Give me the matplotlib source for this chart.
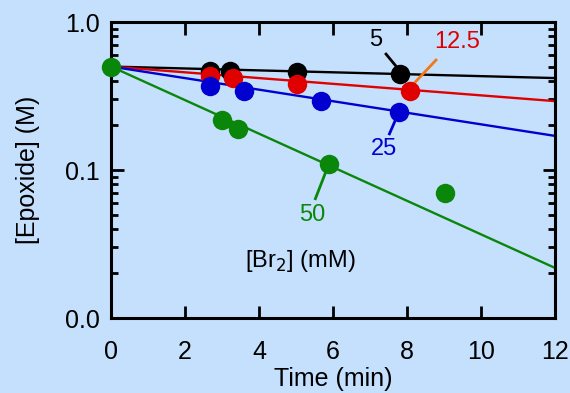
import matplotlib
matplotlib.use("Agg")
import matplotlib.pyplot as plt
from matplotlib.ticker import FixedLocator, LogLocator, NullFormatter

plt.rcParams['font.family'] = ['Liberation Sans', 'DejaVu Sans']

# ---- data ----
series_labels = ["5", "12.5", "25", "50"]
series_colors = ["#000000", "#e00000", "#0000d0", "#0a870a"]
t0 = 0.0
c0 = 0.5
times = [
    [2.68, 3.22, 5.03, 7.81],
    [2.68, 3.30, 5.03, 8.08],
    [2.68, 3.59, 5.68, 7.78],
    [3.00, 3.43, 5.89, 9.03],
]
conc = [
    [0.467, 0.467, 0.459, 0.445],
    [0.432, 0.418, 0.381, 0.342],
    [0.370, 0.342, 0.292, 0.246],
    [0.218, 0.189, 0.110, 0.070],
]
fit_t_end = 12.0
fit_end = [0.418, 0.292, 0.170, 0.0218]

xticks = [0, 2, 4, 6, 8, 10, 12]
yticks = [0.01, 0.1, 1.0]
ytick_labels = ["0.0", "0.1", "1.0"]

fig = plt.figure(figsize=(5.70, 3.93), dpi=100)
bg = "#c4e0fc"
fig.patch.set_facecolor(bg)
ax = fig.add_axes([111/570, 1-318/393, (555-111)/570, (318-22)/393])
ax.set_facecolor(bg)

ax.set_yscale('log')
ax.set_xlim(0, 12)
ax.set_ylim(0.01, 1.0)

# fit lines
for col, fe in zip(series_colors, fit_end):
    ax.plot([t0, fit_t_end], [c0, fe], color=col, lw=1.7, zorder=2, solid_capstyle='butt')

# data points
for col, ts, cs in zip(series_colors, times, conc):
    ax.plot(ts, cs, 'o', color=col, ms=14, mec='none', zorder=3, clip_on=False)
ax.plot([t0], [c0], 'o', color=series_colors[3], ms=14, mec='none', zorder=4, clip_on=False)

# annotations with leader lines
ann = [
    # label, text pos (t, c), leader start, leader end, text color, leader color
    (series_labels[0], (7.14, 0.756), (7.41, 0.617), (7.81, 0.467), series_colors[0], series_colors[0]),
    (series_labels[1], (9.35, 0.733), (8.81, 0.562), (8.08, 0.360), series_colors[1], "#f07818"),
    (series_labels[2], (7.38, 0.139), (7.51, 0.172), (7.78, 0.246), series_colors[2], series_colors[2]),
    (series_labels[3], (5.43, 0.0497), (5.51, 0.0627), (5.89, 0.110), series_colors[3], series_colors[3]),
]
for lab, tp, ls, le, tc, lc in ann:
    ax.text(tp[0], tp[1], lab, color=tc, fontsize=17, ha='center', va='center', zorder=5)
    ax.plot([ls[0], le[0]], [ls[1], le[1]], color=lc, lw=2.0, zorder=2.5, solid_capstyle='butt')

ax.text(5.11, 0.0243, "[Br$_2$] (mM)", fontsize=17, ha='center', va='center')

# axes styling
for s in ax.spines.values():
    s.set_linewidth(2.2)
ax.xaxis.set_major_locator(FixedLocator(xticks))
ax.set_xticklabels([str(v) for v in xticks])
ax.yaxis.set_major_locator(FixedLocator(yticks))
ax.set_yticklabels(ytick_labels)
ax.yaxis.set_minor_locator(LogLocator(base=10, subs=range(2, 10)))
ax.yaxis.set_minor_formatter(NullFormatter())
ax.tick_params(axis='both', which='major', direction='in', length=9, width=2,
               labelsize=18, top=True, right=True, pad=8)
ax.tick_params(axis='y', which='minor', direction='in', length=5, width=2, right=True)
ax.tick_params(axis='x', which='minor', bottom=False, top=False)
ax.tick_params(axis='x', which='major', pad=16)

ax.set_xlabel("Time (min)", fontsize=18, labelpad=2)
ax.set_ylabel("[Epoxide] (M)", fontsize=18, labelpad=18)

fig.savefig("out.png", dpi=100, facecolor=bg)
